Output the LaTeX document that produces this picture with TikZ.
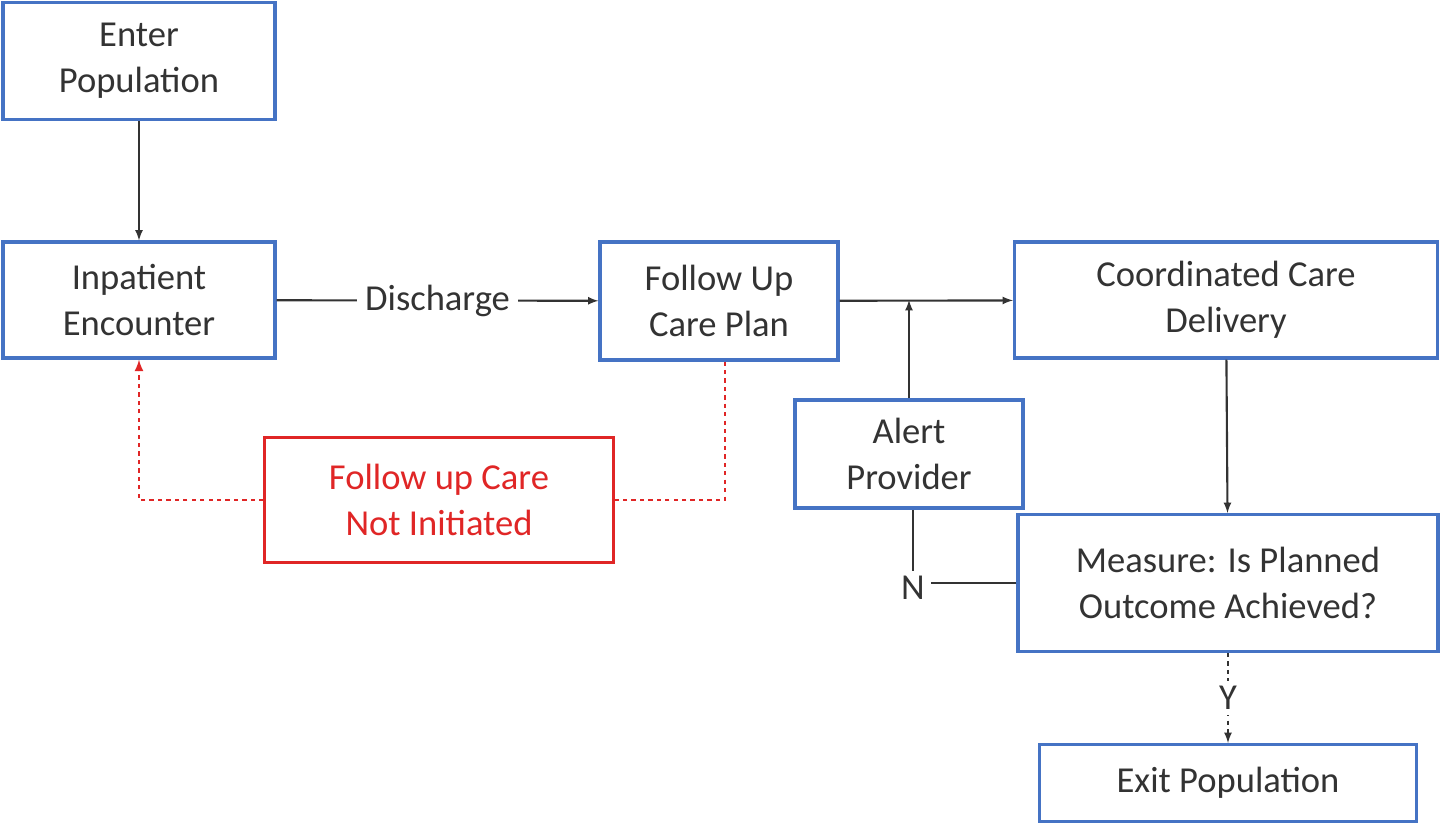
\documentclass[tikz,border=0pt]{standalone}
\usepackage{fontspec}
\setmainfont{Carlito}
\usetikzlibrary{positioning}
\definecolor{boxblue}{rgb}{0.27,0.45,0.77}
\definecolor{flagred}{rgb}{0.88,0.15,0.15}
\definecolor{ink}{rgb}{0.2,0.2,0.2}

\begin{document}
\begin{tikzpicture}[x=0.025cm, y=-0.025cm, -latex, line width=1.5pt, ink,
  font=\fontsize{26}{33}\selectfont,
  box/.style={rectangle, draw=boxblue, line width=2.2pt, fill=white, align=center, text=ink, inner sep=0pt},
  alarm/.style={rectangle, draw=flagred, line width=1.6pt, fill=white, align=center, text=flagred, inner sep=0pt},
  loose/.style={dashed, flagred, line width=1.8pt}]
  \useasboundingbox (0,0) rectangle (1440,824);
  \node [box, minimum width=272*0.025cm, minimum height=117*0.025cm] (ENTER) at (139,61) {Enter\\Population};
  \node [box, minimum width=272*0.025cm, minimum height=116*0.025cm] (INPAT) at (139,300) {Inpatient\\Encounter};
  \node [box, minimum width=238*0.025cm, minimum height=118*0.025cm] (PLAN) at (719,301) {Follow Up\\Care Plan};
  \node [box, minimum width=423*0.025cm, minimum height=116*0.025cm] (COORD) at (1226,300) {Coordinated Care\\Delivery};
  \node [box, minimum width=228*0.025cm, minimum height=108*0.025cm] (ALERT) at (909,454) {Alert\\Provider};
  \node [alarm, minimum width=349*0.025cm, minimum height=125*0.025cm] (NOTINIT) at (439,500) {Follow up Care\\Not Initiated};
  \node [box, minimum width=420*0.025cm, minimum height=137*0.025cm] (MEASURE) at (1228,583) {Measure: Is Planned\\Outcome Achieved?};
  \node [box, minimum width=377*0.025cm, minimum height=77*0.025cm] (EXIT) at (1228,783) {Exit Population};
  \node (NO) at (913,588) {N};
  \coordinate (JOIN) at (909,300);
  \path (ENTER) edge (INPAT);
  \draw (INPAT) -- node [fill=white, inner sep=6pt] {Discharge} (PLAN);
  \draw (PLAN) -- (COORD);
  \draw (ALERT) -- (JOIN);
  \draw [-] (MEASURE.west) -- (NO.east |- MEASURE.west);
  \draw [-] (NO.north) -- (NO.north |- ALERT.south);
  \draw (COORD) -- (MEASURE);
  \draw [dashed] (MEASURE) -- node [fill=white, inner sep=4pt] {Y} (EXIT);
  \draw [loose, -] (PLAN.south -| 725,0) |- (NOTINIT.east);
  \draw [loose] (NOTINIT.west) -| (INPAT.south);
\end{tikzpicture}
\end{document}
